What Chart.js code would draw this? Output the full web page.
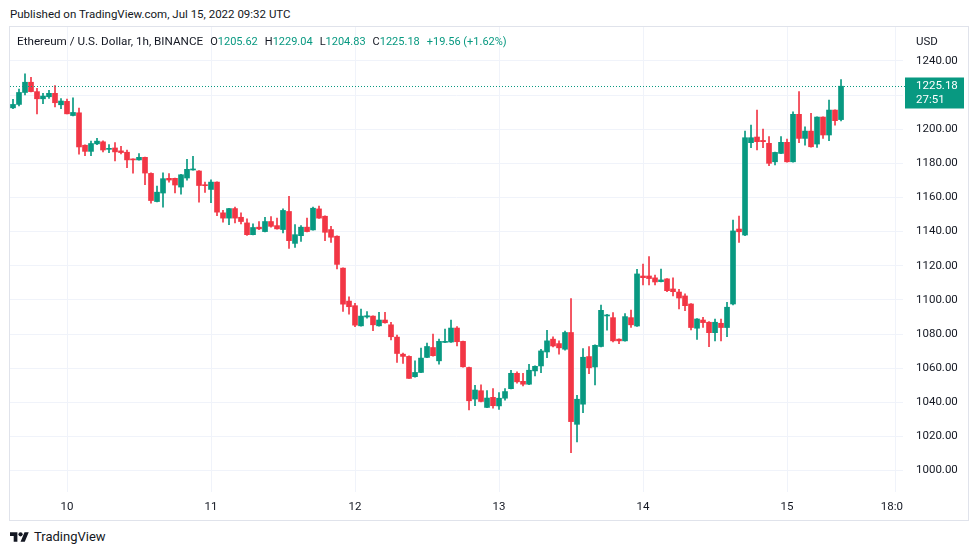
<!DOCTYPE html>
<html>
<head>
<meta charset="utf-8">
<title>ETHUSD 1h</title>
<script src="https://cdn.jsdelivr.net/npm/chart.js@4.4.0/dist/chart.umd.min.js"></script>
<style>
  body { margin: 0; width: 979px; height: 555px; background: #fff; position: relative; overflow: hidden;
         font-family: Roboto, "Liberation Sans", sans-serif; color: #131722; }
  #published { position: absolute; left: 10px; top: 7px; font-size: 11.5px; }
  #frame { position: absolute; left: 9px; top: 26px; width: 960px; height: 495px;
           border: 1px solid #e0e3eb; box-sizing: border-box; }
  #wrap { position: relative; width: 958px; height: 493px; }
  #legend { position: absolute; left: 17px; top: 34px; font-size: 11.7px; white-space: nowrap; }
  #legend span { margin-right: 7px; }
  #legend span.q { font-size: 11px; }
  #legend b { font-weight: normal; color: #089981; }
  #usd { position: absolute; left: 916px; top: 34px; font-size: 11.5px; }
  #logo { position: absolute; left: 10px; top: 529px; font-size: 13px; display: flex; align-items: center; }
  #logo svg { margin-right: 5px; }
</style>
</head>
<body>
<div id="published">Published on TradingView.com, Jul 15, 2022 09:32 UTC</div>
<div id="frame"><div id="wrap"><canvas id="chart"></canvas></div></div>
<div id="legend"></div>
<div id="usd">USD</div>
<div id="logo">
  <svg width="19" height="10" viewBox="0 4 36 18"><path fill="#131722" d="M14 22H7V11H0V4h14v18zM28 22h-8l7.5-18h8L28 22z"/><circle fill="#131722" cx="20" cy="8" r="4"/></svg>
  <span>TradingView</span>
</div>
<script>
// hourly candles, Jul 9 15:00 UTC .. Jul 15 09:00 UTC
var opens = [
  1212.5, 1214.5, 1221.5, 1227.5, 1222, 1217.8, 1219, 1221, 1214.3, 1216.3,
  1208, 1209.6, 1190.6, 1187, 1191.4, 1192.6, 1188.2, 1189, 1187.3, 1186.5,
  1182.4, 1182, 1183.5, 1174.1, 1157.6, 1162.6, 1171.2, 1171.2, 1166.1, 1171.4,
  1176.1, 1175.5, 1167.3, 1164.7, 1169, 1151, 1147.9, 1153.5, 1148.4, 1145.1,
  1138.2, 1142.6, 1140, 1145.9, 1143.5, 1141.2, 1151.8, 1133.1, 1137.6, 1142.6,
  1141, 1153.3, 1149, 1141.2, 1137.3, 1118.6, 1099.3, 1096.6, 1084.8, 1090,
  1090.5, 1084.8, 1088.2, 1085.4, 1078.2, 1068.2, 1066.9, 1055, 1057.5, 1066.3,
  1072.1, 1064.3, 1075.1, 1075.3, 1083.5, 1075.7, 1060.4, 1041.9, 1046.8, 1037,
  1042.9, 1037.9, 1042.4, 1048, 1057, 1052.3, 1050.6, 1058.4, 1061.3, 1069.5,
  1077, 1074.4, 1071.1, 1080.9, 1027.1, 1038.9, 1066.8, 1060.7, 1072.7, 1090.6,
  1089.6, 1077, 1076, 1089.6, 1084.7, 1114, 1114, 1112.9, 1110.7, 1112.3,
  1106.4, 1104.6, 1102.3, 1097.6, 1083.4, 1088.2, 1086.9, 1080.8, 1086.3, 1083.8,
  1097.6, 1141.5, 1138, 1192.1, 1195.4, 1193.4, 1191.7, 1180.9, 1185.8, 1192.3,
  1180.9, 1208.7, 1194.6, 1198.9, 1191.3, 1207.1, 1196.6, 1211.2, 1205.62
];
var highs = [
  1217.5, 1223.5, 1232.4, 1230.4, 1224, 1221, 1222.7, 1225.5, 1218, 1217.6,
  1218.4, 1212.4, 1190.8, 1193, 1194.7, 1193.2, 1191, 1192.2, 1190, 1187.8,
  1182.7, 1185.7, 1183.7, 1174.5, 1166.7, 1174.5, 1174, 1171.4, 1173.5, 1182.4,
  1184.1, 1175.7, 1169, 1170.4, 1169.2, 1152.4, 1153.7, 1154.3, 1151, 1147.5,
  1144.5, 1145.9, 1148.4, 1148.8, 1147.9, 1153.3, 1160.6, 1144.1, 1143.5, 1147.9,
  1154.3, 1154.9, 1149.2, 1143.1, 1137.5, 1118.8, 1101.8, 1098, 1094.6, 1093.2,
  1090.7, 1092.7, 1092.7, 1086.8, 1079.4, 1068.8, 1067.3, 1064.3, 1071.8, 1074.7,
  1080, 1077, 1082.9, 1088.2, 1084.3, 1075.9, 1060.6, 1049.9, 1050.3, 1046.8,
  1048.1, 1045.7, 1048, 1058.8, 1057.8, 1057, 1062.3, 1061.3, 1071.1, 1082.2,
  1078.3, 1076, 1081.8, 1100.8, 1044.1, 1071.5, 1072.7, 1073.6, 1096.9, 1091.6,
  1092.6, 1077.2, 1092, 1094.1, 1117.9, 1121, 1125.4, 1114.6, 1118.1, 1112.5,
  1112.9, 1106.2, 1103.5, 1097.8, 1089, 1089.8, 1087.3, 1088.8, 1088.8, 1098.6,
  1146.8, 1149.1, 1198.9, 1202.4, 1211.2, 1200.1, 1195.6, 1186.6, 1195.6, 1194.2,
  1210.2, 1222, 1201.4, 1209.3, 1207.3, 1207.3, 1217.1, 1211.4, 1229.04
];
var lows = [
  1212, 1213.7, 1220, 1221.8, 1209, 1215, 1218, 1213, 1212, 1209,
  1207.8, 1185.3, 1184.5, 1184.5, 1191, 1186.7, 1186.3, 1181.4, 1185.5, 1177.5,
  1174.3, 1181.8, 1167.5, 1156.7, 1157.4, 1154.3, 1169, 1162.6, 1162, 1170.2,
  1176, 1157.3, 1163, 1156.9, 1149.4, 1145.5, 1144.1, 1145.1, 1144.5, 1137.7,
  1138, 1141.2, 1139.8, 1142.6, 1141.4, 1139.2, 1130.2, 1130.8, 1134.3, 1139.8,
  1140.8, 1147.7, 1134.7, 1133.7, 1118.1, 1093.2, 1091.7, 1084.3, 1084.6, 1089.3,
  1081.9, 1084.6, 1086.4, 1076.6, 1063.4, 1062.8, 1054, 1054.8, 1057.3, 1066.1,
  1067.1, 1062.4, 1075, 1075.1, 1073.1, 1060.6, 1035.6, 1038, 1040.3, 1036.8,
  1036.6, 1035.9, 1041.2, 1047.8, 1051.2, 1049.6, 1050.4, 1055.5, 1057.4, 1066.2,
  1072.5, 1068.2, 1070.5, 1010.5, 1016.8, 1034, 1056.8, 1050.2, 1072.5, 1082.2,
  1075.4, 1074.4, 1075.8, 1083.8, 1084.5, 1108.8, 1108.8, 1108.8, 1110.5, 1104.8,
  1102.3, 1094.7, 1093.7, 1082.4, 1076.9, 1083.8, 1072.6, 1075.9, 1075.9, 1078.5,
  1097, 1133.7, 1137.6, 1189.1, 1187.8, 1189.1, 1178.6, 1179, 1185.6, 1180.7,
  1180.7, 1192.1, 1190.7, 1189.5, 1189.3, 1194.6, 1193.2, 1202.4, 1204.83
];
var closes = [
  1214.5, 1221.5, 1227.5, 1222, 1217.8, 1219.4, 1221, 1215.5, 1216.5, 1209,
  1209.8, 1189.6, 1187, 1191.6, 1193, 1187.8, 1188.8, 1186.7, 1186.3, 1182,
  1182, 1183.5, 1174.3, 1158.2, 1163.1, 1171, 1170.2, 1167.3, 1173.3, 1176.5,
  1176.7, 1167, 1166.9, 1169, 1151.4, 1147.9, 1153.5, 1147.9, 1145.9, 1138.2,
  1142.4, 1141.6, 1145.9, 1143.1, 1141.6, 1152.4, 1134.7, 1138.2, 1142.6, 1140,
  1153.7, 1147.9, 1139.6, 1136.7, 1120.8, 1097.5, 1096, 1085.2, 1090.5, 1090.7,
  1085.4, 1088.2, 1086.6, 1078.4, 1068.6, 1066.9, 1054, 1057.5, 1065.9, 1072.7,
  1067.3, 1075.7, 1075.7, 1083.5, 1075.5, 1060.8, 1040.9, 1047.2, 1040.5, 1042.5,
  1038, 1042.4, 1046.3, 1057, 1052, 1050.6, 1058.8, 1061.1, 1070.1, 1076,
  1073, 1071.9, 1080.9, 1028.7, 1041.8, 1066.4, 1060.2, 1073.4, 1093.9, 1091,
  1076, 1076, 1090.2, 1085.4, 1115.2, 1113, 1112.5, 1110.5, 1111.7, 1105.4,
  1104.8, 1101.1, 1096.6, 1083.8, 1088.8, 1086.7, 1080.8, 1086.9, 1083.8, 1095.7,
  1140.4, 1139.9, 1195, 1195, 1192.7, 1192.7, 1180, 1186.4, 1192.3, 1180.9,
  1208.7, 1194.6, 1198.9, 1189.7, 1207.1, 1196.6, 1211.2, 1205, 1225.18
];

var firstHour = -9;               // hours relative to Jul 10 00:00 UTC
var dayTicks = [0, 24, 48, 72, 96, 120, 138];
var dayLabels = ['10', '11', '12', '13', '14', '15', '18:00'];
var priceTicks = [1000, 1020, 1040, 1060, 1080, 1100, 1120, 1140, 1160, 1180, 1200, 1220, 1240];

var upColor = '#089981';
var downColor = '#f23645';
var gridColor = '#f0f3fa';

// legend line from the last candle
var last = closes.length - 1;
var change = closes[last] - opens[last];
var pct = change / opens[last] * 100;
document.getElementById('legend').innerHTML =
  '<span>Ethereum / U.S. Dollar, 1h, BINANCE</span>' +
  '<span class="q">O<b>' + opens[last].toFixed(2) + '</b></span>' +
  '<span class="q">H<b>' + highs[last].toFixed(2) + '</b></span>' +
  '<span class="q">L<b>' + lows[last].toFixed(2) + '</b></span>' +
  '<span class="q">C<b>' + closes[last].toFixed(2) + '</b></span>' +
  '<span class="q"><b>+' + change.toFixed(2) + ' (+' + pct.toFixed(2) + '%)</b></span>';

function candleColor(ctx) {
  var i = ctx.dataIndex;
  return closes[i] >= opens[i] ? upColor : downColor;
}

var wickData = [];
var bodyData = [];
for (var i = 0; i < closes.length; i++) {
  wickData.push({ x: firstHour + i, y: [lows[i], highs[i]] });
  bodyData.push({ x: firstHour + i, y: [opens[i], closes[i]] });
}

// dotted last-price line and the price tag on the axis
var lastPricePlugin = {
  id: 'lastPrice',
  afterDraw: function (chart) {
    var ctx = chart.ctx;
    var area = chart.chartArea;
    var y = Math.round(chart.scales.y.getPixelForValue(closes[last])) + 0.5;

    // clip x labels that run into the price scale
    ctx.save();
    ctx.fillStyle = '#fff';
    ctx.fillRect(area.right, area.bottom, chart.width - area.right, chart.height - area.bottom);

    ctx.strokeStyle = upColor;
    ctx.lineWidth = 1;
    ctx.setLineDash([1, 2]);
    ctx.beginPath();
    ctx.moveTo(area.left, y);
    ctx.lineTo(area.right + 2, y);
    ctx.stroke();
    ctx.setLineDash([]);

    ctx.fillStyle = upColor;
    ctx.fillRect(area.right + 2, y - 9, 59, 31);
    ctx.fillStyle = '#fff';
    ctx.font = '11.5px Roboto';
    ctx.textAlign = 'left';
    ctx.textBaseline = 'middle';
    ctx.fillText(closes[last].toFixed(2), area.right + 13, y);
    ctx.fillText('27:51', area.right + 13, y + 14);
    ctx.restore();
  }
};

Chart.defaults.font.family = 'Roboto';
Chart.defaults.color = '#131722';

new Chart(document.getElementById('chart'), {
  type: 'bar',
  data: {
    datasets: [
      { data: bodyData, backgroundColor: candleColor, barThickness: 5, minBarLength: 1, grouped: false },
      { data: wickData, backgroundColor: candleColor, barThickness: 1, grouped: false }
    ]
  },
  options: {
    responsive: true,
    maintainAspectRatio: false,
    animation: false,
    layout: { padding: 0 },
    plugins: { legend: { display: false }, tooltip: { enabled: false } },
    scales: {
      x: {
        type: 'linear',
        min: -9.5,
        max: 139.33,
        offset: false,
        grid: { color: gridColor, drawTicks: false, offset: false },
        border: { display: false },
        afterBuildTicks: function (scale) {
          scale.ticks = dayTicks.map(function (v) { return { value: v }; });
        },
        afterFit: function (scale) {
          scale.height = 28;
          scale.paddingLeft = 0;
          scale.paddingRight = 0;
        },
        ticks: {
          autoSkip: false,
          maxRotation: 0,
          padding: 8,
          font: { size: 11.5 },
          callback: function (value) { return dayLabels[dayTicks.indexOf(value)]; }
        }
      },
      y: {
        position: 'right',
        min: 987.46,
        max: 1259.86,
        grid: { color: gridColor, drawTicks: false },
        border: { display: false },
        afterBuildTicks: function (scale) {
          scale.ticks = priceTicks.map(function (v) { return { value: v }; });
        },
        afterFit: function (scale) {
          scale.width = 65;
          scale.paddingTop = 0;
          scale.paddingBottom = 0;
        },
        ticks: {
          crossAlign: 'near',
          padding: 13,
          font: { size: 11.5 },
          callback: function (value) { return value.toFixed(2); }
        }
      }
    }
  },
  plugins: [lastPricePlugin]
});
</script>
</body>
</html>
